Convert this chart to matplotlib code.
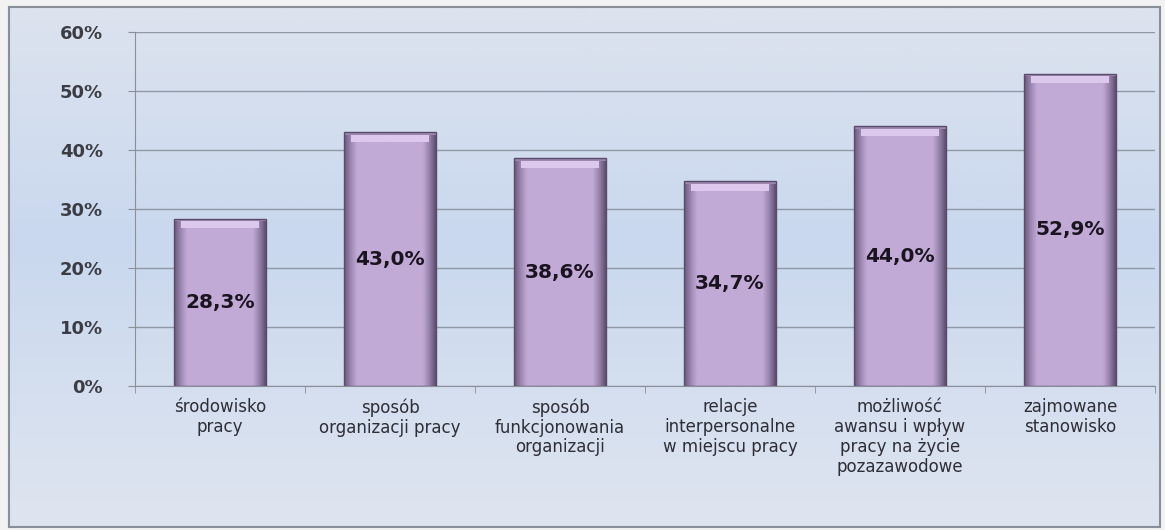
import matplotlib.pyplot as plt
import numpy as np
from matplotlib.colors import LinearSegmentedColormap
from matplotlib.patches import Rectangle

categories = [
    'środowisko\npracy',
    'sposób\norganizacji pracy',
    'sposób\nfunkcjonowania\norganizacji',
    'relacje\ninterpersonalne\nw miejscu pracy',
    'możliwość\nawansu i wpływ\npracy na życie\npozazawodowe',
    'zajmowane\nstanowisko',
]
values = [28.3, 43.0, 38.6, 34.7, 44.0, 52.9]
value_labels = ['28,3%', '43,0%', '38,6%', '34,7%', '44,0%', '52,9%']
y_ticks = [0, 10, 20, 30, 40, 50, 60]

W, H = 1165, 530
fig = plt.figure(figsize=(W / 100, H / 100), dpi=100)
fig.patch.set_facecolor('#f2f2f2')

# framed panel with a soft vertical blue gradient
bg = fig.add_axes([9 / W, 3 / H, 1151 / W, 520 / H])
bg_cmap = LinearSegmentedColormap.from_list(
    'bg', [(0, '#dde3ee'), (0.45, '#c9d8ee'), (1, '#dfe5f0')])
bg.imshow(np.linspace(0, 1, 256)[:, None], aspect='auto', cmap=bg_cmap,
          extent=[0, 1, 1, 0])
bg.set_xticks([])
bg.set_yticks([])
for s in bg.spines.values():
    s.set_color('#8a9099')
    s.set_linewidth(1.5)

ax = fig.add_axes([135 / W, 1 - 386 / H, 1020 / W, 354 / H])
ax.patch.set_alpha(0)
x = np.arange(len(values))
ax.set_xlim(-0.5, len(values) - 0.5)
ax.set_ylim(0, 60)

# bevelled bars: horizontal shading profile clipped to each bar
shade = LinearSegmentedColormap.from_list(
    'bar', [(0, '#6a5a7c'), (0.07, '#9c86b0'), (0.14, '#c2aad6'),
            (0.86, '#c2aad6'), (0.93, '#9883ac'), (1, '#5e4f70')])
bw = 0.54
bars = ax.bar(x, values, width=bw, color='none', edgecolor='#5a4b6a',
              linewidth=1.0, zorder=3)
prof = np.linspace(0, 1, 200)[None, :]
for b, v in zip(bars, values):
    x0 = b.get_x()
    im = ax.imshow(prof, aspect='auto', cmap=shade,
                   extent=[x0, x0 + bw, 0, v], zorder=2)
    im.set_clip_path(b)
    # soft light bevel along the top of the bar
    ax.add_patch(Rectangle((x0 + bw * 0.07, v - 1.6), bw * 0.86, 1.3,
                           color='#dcc8ec', zorder=2.5, lw=0))
    ax.add_patch(Rectangle((x0, v - 0.4), bw, 0.4,
                           color='#9a88ae', zorder=2.6, lw=0))

for xi, v, lab in zip(x, values, value_labels):
    ax.text(xi, v / 2, lab, ha='center', va='center', fontsize=14.5,
            fontweight='bold', color='#1a1420', zorder=4)

ax.set_yticks(y_ticks)
ax.set_yticklabels([f'{t}%' for t in y_ticks], fontsize=13,
                   fontweight='bold', color='#3c3c44')
ax.set_xticks(x)
ax.set_xticklabels(categories, fontsize=12, color='#2e2e36',
                   linespacing=1.12)
ax.set_xticks(np.arange(len(values) + 1) - 0.5, minor=True)
ax.tick_params(axis='x', which='major', length=0, pad=9)
ax.tick_params(axis='x', which='minor', length=5, color='#8a8f98')
ax.tick_params(axis='y', length=5, color='#8a8f98', pad=18)
ax.yaxis.grid(True, color='#8f98a6', lw=1.0, zorder=0)
ax.set_axisbelow(True)
for side in ['top', 'right']:
    ax.spines[side].set_visible(False)
for side in ['left', 'bottom']:
    ax.spines[side].set_color('#8a8f98')

fig.savefig('out.png', dpi=100, facecolor=fig.get_facecolor())
